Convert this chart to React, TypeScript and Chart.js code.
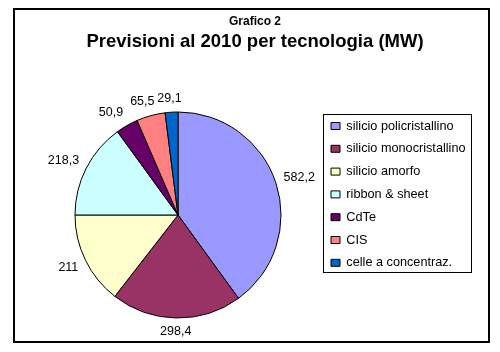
import React, { useEffect, useRef } from "react";
import { Chart, registerables } from "chart.js";

Chart.register(...registerables);

const categories = [
  "silicio policristallino",
  "silicio monocristallino",
  "silicio amorfo",
  "ribbon & sheet",
  "CdTe",
  "CIS",
  "celle a concentraz.",
];
const values = [582.2, 298.4, 211, 218.3, 50.9, 65.5, 29.1];
const colors = ["#9999FF", "#993366", "#FFFFCC", "#CCFFFF", "#660066", "#FF8080", "#0066CC"];
const valueLabels = values.map((v) => String(v).replace(".", ","));
const titleText = "Grafico 2";
const subtitleText = "Previsioni al 2010 per tecnologia (MW)";

const FONT = "'Liberation Sans', Arial, Helvetica, sans-serif";

const clamp = (v: number) => Math.max(-1, Math.min(1, v));

const framePlugin = {
  id: "frame",
  beforeDraw(chart: any) {
    const ctx = chart.ctx;
    ctx.save();
    ctx.fillStyle = "#ffffff";
    ctx.fillRect(0, 0, chart.width, chart.height);
    ctx.restore();
  },
  afterDraw(chart: any) {
    const ctx = chart.ctx;
    ctx.save();
    ctx.strokeStyle = "#000";
    ctx.lineWidth = 2;
    ctx.strokeRect(14, 9, 475, 333);
    const lg = chart.legend;
    if (lg) {
      ctx.lineWidth = 1;
      ctx.strokeRect(Math.round(lg.left + 2) + 0.5, Math.round(lg.top + 4.5) + 0.5, 148, 158);
    }
    ctx.restore();
  },
};

const labelPlugin = {
  id: "outerLabels",
  afterDatasetsDraw(chart: any) {
    const ctx = chart.ctx;
    const meta = chart.getDatasetMeta(0);
    ctx.save();
    ctx.font = `12.5px ${FONT}`;
    ctx.fillStyle = "#000";
    ctx.textAlign = "center";
    ctx.textBaseline = "middle";
    meta.data.forEach((arc: any, i: number) => {
      const { x, y, startAngle, endAngle, outerRadius } = arc.getProps(
        ["x", "y", "startAngle", "endAngle", "outerRadius"],
        true
      );
      const mid = (startAngle + endAngle) / 2;
      const dx = Math.cos(mid);
      const dy = Math.sin(mid);
      const text = valueLabels[i];
      const w = ctx.measureText(text).width;
      const h = 12;
      const d = outerRadius + 8;
      const px = x + dx * d;
      const py = y + dy * d;
      const cx = px + (w / 2) * clamp(2 * dx);
      const cy = py + (h / 2) * clamp(1.5 * dy);
      ctx.fillText(text, cx, cy);
    });
    ctx.restore();
  },
};

export default function App() {
  const ref = useRef<HTMLCanvasElement | null>(null);

  useEffect(() => {
    if (!ref.current) return;
    const chart = new Chart(ref.current, {
      type: "pie",
      data: {
        labels: categories,
        datasets: [
          {
            data: values,
            backgroundColor: colors,
            borderColor: "#000",
            borderWidth: 1,
          },
        ],
      },
      options: {
        responsive: false,
        animation: false,
        events: [],
        radius: 103,
        layout: { padding: { left: 35.1, right: 25.1, top: 9, bottom: 31.55 } },
        plugins: {
          tooltip: { enabled: false },
          title: {
            display: true,
            text: titleText,
            color: "#000",
            font: { family: FONT, size: 12, weight: "bold", lineHeight: 1 },
            padding: { top: 6.5, bottom: 0 },
          },
          subtitle: {
            display: true,
            text: subtitleText,
            color: "#000",
            font: { family: FONT, size: 18.5, weight: "bold", lineHeight: 1 },
            padding: { top: 4.75, bottom: 58.8 },
          },
          legend: {
            display: true,
            position: "right",
            align: "start",
            fullSize: false,
            maxWidth: 154,
            labels: {
              color: "#000",
              font: { family: FONT, size: 12.7 },
              boxWidth: 9,
              boxHeight: 7,
              padding: 10.1,
            },
          },
        },
      } as any,
      plugins: [framePlugin, labelPlugin],
    });
    return () => chart.destroy();
  }, []);

  return (
    <div style={{ position: "absolute", left: 0, top: 0, width: 500, height: 352 }}>
      <canvas ref={ref} width={500} height={352} style={{ width: 500, height: 352, display: "block" }} />
    </div>
  );
}
